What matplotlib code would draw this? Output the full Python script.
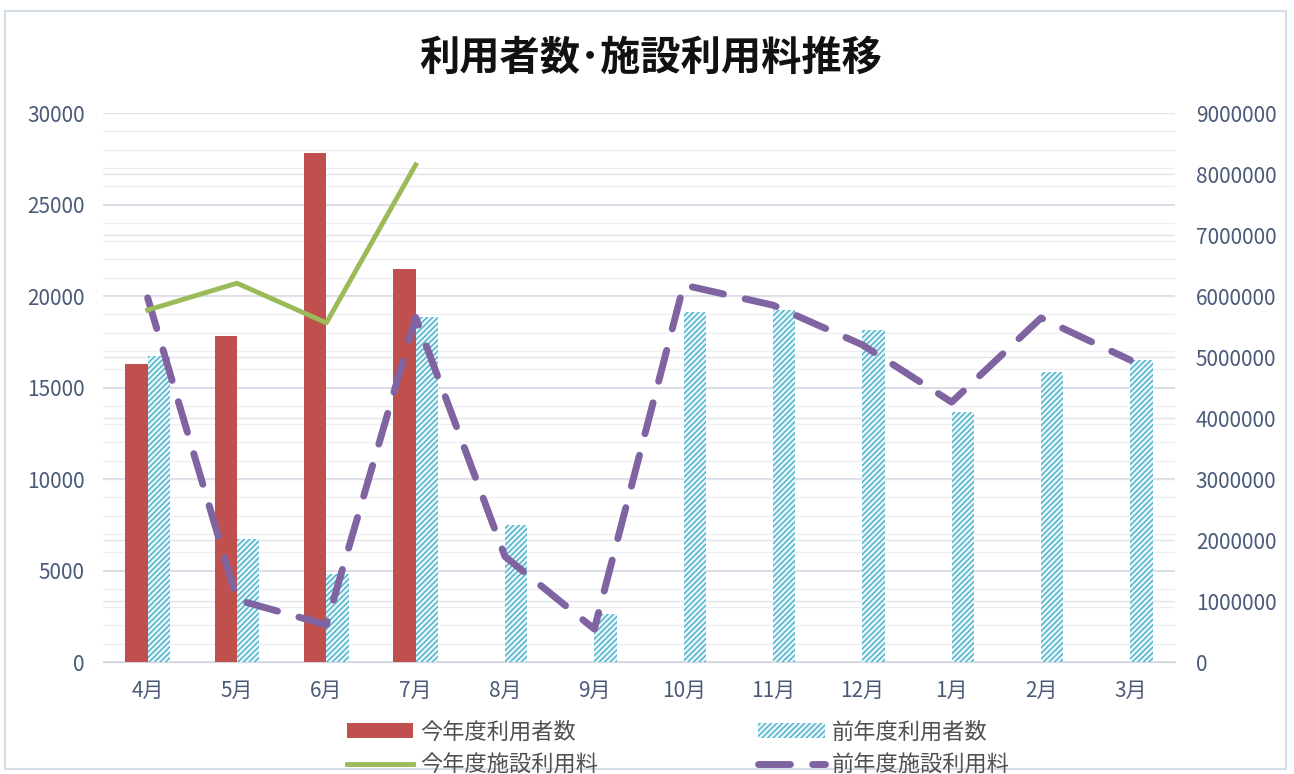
import matplotlib
matplotlib.use('Agg')
import matplotlib.pyplot as plt
import numpy as np
from matplotlib.patches import Rectangle
from matplotlib.ticker import FuncFormatter

plt.rcParams['font.family'] = ['Noto Sans CJK JP', 'DejaVu Sans']
plt.rcParams['hatch.linewidth'] = 1.0

# data
months = ['4月', '5月', '6月', '7月', '8月', '9月', '10月', '11月', '12月', '1月', '2月', '3月']
users_this = [16300, 17800, 27800, 21500]
users_prev = [16700, 6700, 4800, 18850, 7500, 2600, 19150, 19250, 18150, 13650, 15850, 16500]
fee_this = [5770000, 6210000, 5560000, 8150000]
fee_prev = [5970000, 1020000, 610000, 5650000, 1730000, 540000, 6180000, 5850000, 5200000, 4260000, 5640000, 4950000]

red = '#C0504D'
cyan = '#4BACC6'
green = '#9BBB59'
purple = '#8064A2'
tick_col = '#4A5A78'

fig = plt.figure(figsize=(12.94, 7.74), dpi=100)
fig.patches.append(Rectangle((0.004, 0.006), 0.99, 0.98, transform=fig.transFigure,
                             fill=False, edgecolor='#d5dde8', linewidth=1.5))

ax = fig.add_axes([0.0796, 0.1447, 0.8284, 0.7093])
ax2 = ax.twinx()

x = np.arange(len(months))
w = 0.25
b1 = ax.bar(x[:len(users_this)] - w / 2, users_this, w, color=red, zorder=3,
            label='今年度利用者数')
b2 = ax.bar(x + w / 2, users_prev, w, facecolor='#e4f7fb', edgecolor=cyan, hatch='//////',
            linewidth=0, zorder=3, label='前年度利用者数')

l2, = ax2.plot(x, fee_prev, color=purple, linewidth=5.0, dashes=(4.6, 3.2),
               solid_capstyle='round', dash_capstyle='round', label='前年度施設利用料', zorder=4)
l1, = ax2.plot(x[:len(fee_this)], fee_this, color=green, linewidth=3.5, label='今年度施設利用料',
               zorder=5)

ax.set_xlim(-0.5, 11.5)
ax.set_ylim(0, 30000)
ax2.set_ylim(0, 9000000)
ax.set_yticks(np.arange(0, 30001, 5000))
ax.set_yticks(np.arange(0, 30001, 1000), minor=True)
ax2.set_yticks(np.arange(0, 9000001, 1000000))
ax2.yaxis.set_major_formatter(FuncFormatter(lambda v, p: f'{int(v)}'))
ax.set_xticks(x)
ax.set_xticklabels(months)

ax.grid(axis='y', which='major', color='#d3d7e3', linewidth=1.2, zorder=0)
ax.grid(axis='y', which='minor', color='#eceef3', linewidth=0.9, zorder=0)
ax.set_axisbelow(True)
# right-axis gridlines, drawn behind the bars on the left axes
ax.hlines(ax2.get_yticks() * 30000 / 9000000, -0.5, 11.5, color='#e0e3ea', linewidth=1.0, zorder=1)

for a in (ax, ax2):
    for s in a.spines.values():
        s.set_visible(False)
    a.tick_params(length=0, labelsize=15, labelcolor=tick_col, which='both')
ax.spines['bottom'].set_visible(True)
ax.spines['bottom'].set_color('#d0d5e0')
ax.tick_params(axis='y', pad=13)
ax.tick_params(axis='x', pad=13)
ax2.tick_params(axis='y', pad=15)

fig.text(0.503, 0.925, '利用者数･施設利用料推移', ha='center', va='center',
         fontsize=29, fontweight='bold', color='#111111')

fig.legend([b1, l1, b2, l2],
           ['今年度利用者数', '今年度施設利用料', '前年度利用者数', '前年度施設利用料'],
           ncol=2, loc='center', bbox_to_anchor=(0.524, 0.033), frameon=False,
           fontsize=16, handlelength=3.0, handletextpad=0.3, columnspacing=7.2,
           labelspacing=0.45, labelcolor='#505050', borderpad=0.1)

fig.savefig('out.png', dpi=100)
